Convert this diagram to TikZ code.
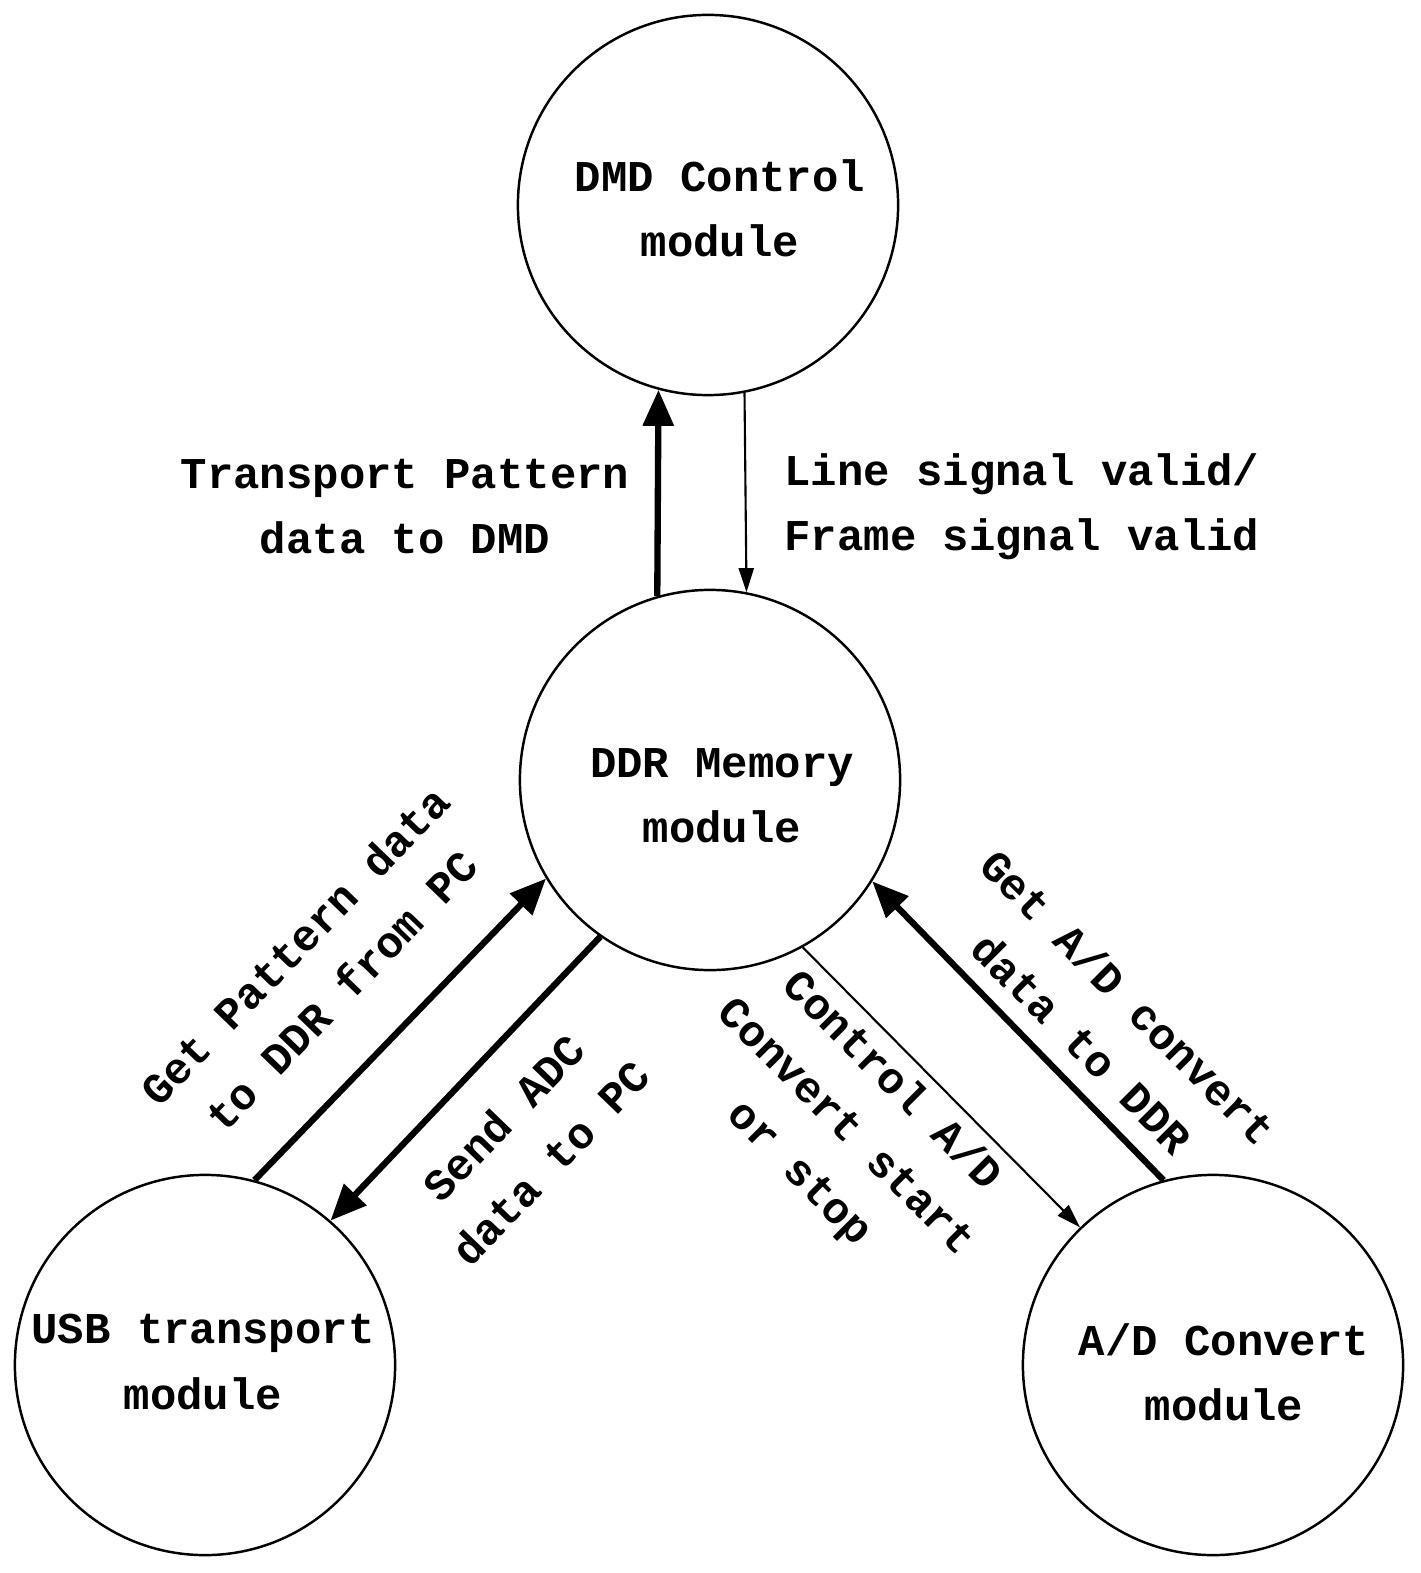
\documentclass[tikz,border=0pt]{standalone}
\usepackage{fontspec}
\setmainfont{Liberation Mono}
\usetikzlibrary{arrows.meta, positioning}

\begin{document}
\begin{tikzpicture}[
    x=0.01cm, y=-0.01cm,
    % Styles
    module/.style={circle, draw, line width=0.7pt, minimum size=3.8cm, inner sep=0pt},
    txt/.style={align=center, font=\fontsize{12.5}{18.5}\selectfont\bfseries},
    bus/.style={line width=1.8pt, -{Triangle[length=0.36cm, width=0.3cm]}},
    ctrl/.style={line width=0.6pt, -{Triangle[length=0.24cm, width=0.15cm]}}
]
\useasboundingbox (0,0) rectangle (1420,1573);

% --- Modules ---
\node[module] (dmd) at (708,205) {};
\node[module] (ddr) at (710,780) {};
\node[module] (usb) at (205,1365) {};
\node[module] (adc) at (1213,1365) {};
\node[txt] (dmd_lbl) at (720,208) {DMD Control\\module};
\node[txt] (ddr_lbl) at (722,796) {DDR Memory\\module};
\node[txt] (usb_lbl) at (203,1362) {USB transport\\module};
\node[txt] (adc_lbl) at (1224,1372) {A/D Convert\\module};

% --- DDR <-> DMD ---
\draw[bus] (ddr.106) -- (dmd.255);
\draw[ctrl] (dmd.281) -- (ddr.79);
\node[txt] (lbl_pat) at (405,507) {Transport Pattern\\data to DMD};
\node[txt, align=left] (lbl_sig) at (1022,507) {Line signal valid/\\Frame signal valid};

% --- DDR <-> USB ---
\draw[bus] (usb.75) -- (ddr.211);
\draw[bus] (ddr.235) -- (usb.49);
\node[txt, rotate=46] (lbl_get) at (318,968) {Get Pattern data\\to DDR from PC};
\node[txt, rotate=46] (lbl_send) at (527,1140) {Send ADC\\data to PC};

% --- DDR <-> A/D ---
\draw[ctrl] (ddr.299) -- (adc.134);
\draw[bus] (adc.105) -- (ddr.328);
\node[txt, rotate=-45] (lbl_ctl) at (845,1128) {Control A/D\\Convert start\\or stop};
\node[txt, rotate=-45] (lbl_ad) at (1105,1020) {Get A/D convert\\data to DDR};

\end{tikzpicture}
\end{document}
